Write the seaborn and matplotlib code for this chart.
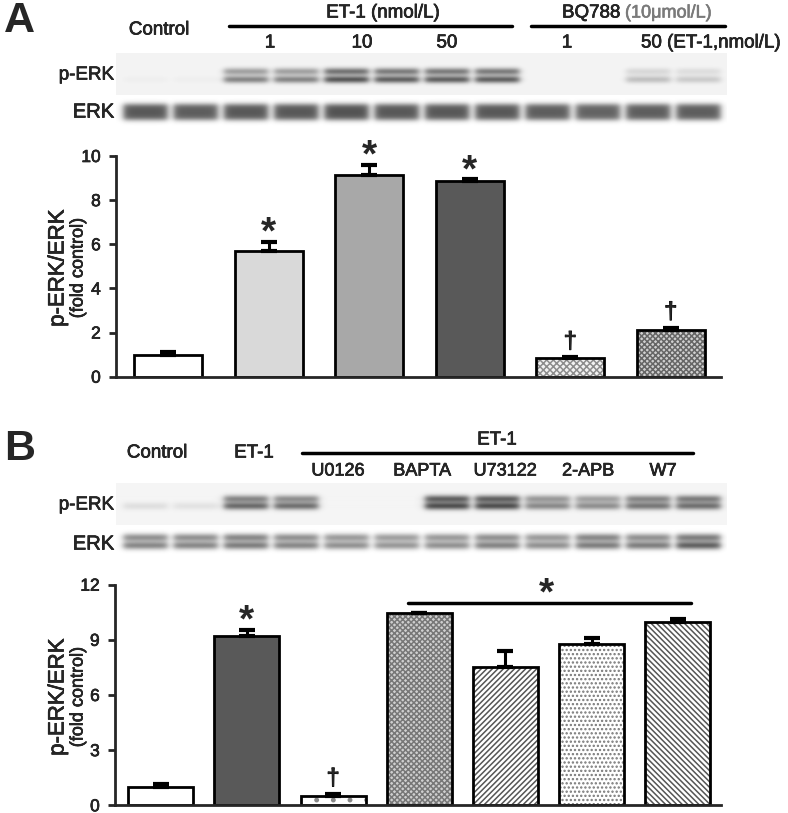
import numpy as np
import pandas as pd
import matplotlib
matplotlib.use("Agg")
import matplotlib.pyplot as plt
import matplotlib.patheffects as pe
from matplotlib.patches import Rectangle
import seaborn as sns

# ---- bar data ----
a_groups = ["Control", "ET-1 1", "ET-1 10", "ET-1 50", "BQ788+ET-1 1", "BQ788+ET-1 50"]
a_means = [1.0, 5.68, 9.12, 8.87, 0.83, 2.12]
a_sem = [0.12, 0.42, 0.47, 0.07, 0.05, 0.10]
a_marks = ["", "*", "*", "*", "\u2020", "\u2020"]

b_groups = ["Control", "ET-1", "U0126", "BAPTA", "U73122", "2-APB", "W7"]
b_means = [1.0, 9.22, 0.51, 10.44, 7.54, 8.77, 9.95]
b_sem = [0.15, 0.31, 0.10, 0.02, 0.85, 0.35, 0.20]
b_marks = ["", "*", "\u2020", "", "", "", ""]

# ---- blot band strengths per lane (0 = no band, 1 = black) ----
a_perk_upper = [0.0, 0.0, 0.45, 0.45, 0.70, 0.65, 0.65, 0.65, 0.0, 0.0, 0.15, 0.12]
a_perk_lower = [0.03, 0.03, 0.60, 0.60, 0.85, 0.80, 0.80, 0.80, 0.0, 0.0, 0.28, 0.22]
a_erk = [0.62, 0.60, 0.62, 0.62, 0.64, 0.62, 0.62, 0.62, 0.60, 0.58, 0.60, 0.60]

b_perk_upper = [0.0, 0.0, 0.60, 0.55, 0.0, 0.0, 0.80, 0.80, 0.50, 0.45, 0.60, 0.65]
b_perk_lower = [0.12, 0.10, 0.75, 0.72, 0.0, 0.0, 0.90, 0.90, 0.58, 0.55, 0.68, 0.72]
b_erk_upper = [0.55, 0.55, 0.60, 0.55, 0.50, 0.48, 0.50, 0.55, 0.50, 0.60, 0.55, 0.65]
b_erk_lower = [0.60, 0.60, 0.65, 0.60, 0.55, 0.52, 0.55, 0.62, 0.55, 0.65, 0.65, 0.80]

W, H = 788, 813
heavy = [pe.withStroke(linewidth=0.45, foreground="black")]


def fx(px):
    return px / W


def fy(py):
    return 1 - py / H


def blot(strength_rows, band_rows, width_px, height_px, bg, lane_w=44, band_sd=2.6):
    xs = np.arange(width_px)[None, :]
    ys = np.arange(height_px)[:, None]
    centers = np.linspace(29, 582, 12) * width_px / 611.0
    dark = np.zeros((height_px, width_px))
    for strengths, by in zip(strength_rows, band_rows):
        v = np.exp(-0.5 * ((ys - by) / band_sd) ** 2)
        for c, s in zip(centers, strengths):
            h = 1 / (1 + np.exp(-(lane_w / 2 - np.abs(xs - c)) / 2.0))
            dark += s * h * v
    dark = np.clip(dark, 0, 1)
    return bg - dark * (bg - 0.25)


sns.set_style("ticks")
plt.rcParams["font.family"] = ["Liberation Sans", "DejaVu Sans"]
plt.rcParams["hatch.linewidth"] = 1.1

fig = plt.figure(figsize=(W / 100, H / 100), dpi=100)


def label(x, y, s, size=13.5, **kw):
    kw.setdefault("ha", "center")
    kw.setdefault("va", "center")
    t = fig.text(fx(x), fy(y), s, fontsize=size, **kw)
    t.set_path_effects([pe.withStroke(linewidth=0.45, foreground=kw.get("color", "black"))])
    return t


def add_blot(top, bottom, img):
    ax = fig.add_axes([fx(116), fy(bottom), fx(727) - fx(116), fy(top) - fy(bottom)])
    ax.imshow(img, cmap="gray", vmin=0, vmax=1, aspect="auto", interpolation="bilinear")
    ax.axis("off")
    return ax


# Panel A blots
img = blot([a_perk_upper, a_perk_lower], [18, 26], 611, 42, 0.955)
add_blot(53, 95, img)
img = blot([a_erk, a_erk, a_erk], [12, 17, 22], 611, 35, 1.0, band_sd=2.8)
add_blot(95, 130, img)

# Panel B blots
img = blot([b_perk_upper, b_perk_lower], [16, 23], 611, 42, 0.96)
add_blot(483, 525, img)
img = blot([b_erk_upper, b_erk_lower], [12, 20], 611, 35, 1.0, band_sd=2.9)
add_blot(525, 560, img)


def bar_panel(rect, groups, means, sem, marks, styles, width, ymax, yticks):
    ax = fig.add_axes(rect)
    df = pd.DataFrame({"group": groups, "value": means})
    sns.barplot(data=df, x="group", y="value", hue="group", palette=[s[0] for s in styles],
                legend=False, width=width, edgecolor="black", linewidth=2, saturation=1, ax=ax)
    for p, (fc, hatch, hc) in zip(ax.patches, styles):
        if hatch:
            p.set_hatch(hatch)
            p.set_edgecolor(hc)
            p.set_linewidth(0)
            ax.add_patch(Rectangle((p.get_x(), p.get_y()), p.get_width(), p.get_height(),
                                   fill=False, ec="black", lw=2, zorder=p.get_zorder() + 0.1))
    xs = np.arange(len(groups))
    ax.errorbar(xs, means, yerr=[np.zeros(len(sem)), sem], fmt="none", ecolor="black",
                elinewidth=2.2, capsize=6, capthick=3, zorder=1)
    for x, m, s, mk in zip(xs, means, sem, marks):
        if mk == "*":
            ax.annotate(mk, xy=(x, m + s), xytext=(0, -7), textcoords="offset points",
                        ha="center", va="bottom", fontsize=28, fontweight="bold")
        elif mk:
            t = ax.annotate(mk, xy=(x, m + s), xytext=(0, 3), textcoords="offset points",
                            ha="center", va="bottom", fontsize=17)
            t.set_path_effects([pe.withStroke(linewidth=0.7, foreground="black")])
    ax.set_ylim(0, ymax)
    ax.set_yticks(yticks)
    ax.set_xlabel("")
    ax.set_ylabel("")
    ax.set_xticks([])
    sns.despine(ax=ax)
    for s in ["left", "bottom"]:
        ax.spines[s].set_linewidth(2)
    ax.tick_params(axis="y", length=5, width=2, labelsize=12.5, pad=6)
    for t in ax.get_yticklabels():
        t.set_path_effects(heavy)
    return ax


a_styles = [("white", None, None), ("#d9d9d9", None, None), ("#a8a8a8", None, None),
            ("#595959", None, None), ("#f2f2f2", "xxxxx", "#8c8c8c"), ("#d0d0d0", "xxxxxx", "#666666")]
axA = bar_panel([fx(116), fy(376.7), fx(721) - fx(116), fy(156) - fy(376.7)],
                a_groups, a_means, a_sem, a_marks, a_styles, 0.677, 10, [0, 2, 4, 6, 8, 10])
axA.set_xlim(-0.52, 5.5)

b_styles = [("white", None, None), ("#595959", None, None), ("white", ".", "#888888"),
            ("#cfcfcf", "xxxxxx", "#777777"), ("white", "//////", "#555555"),
            ("white", "....", "#777777"), ("white", "\\\\\\\\\\\\", "#555555")]
axB = bar_panel([fx(115), fy(805.3), fx(721) - fx(115), fy(584.7) - fy(805.3)],
                b_groups, b_means, b_sem, b_marks, b_styles, 0.754, 12, [0, 3, 6, 9, 12])
axB.set_xlim(-0.53, 6.5)

# significance bar over the inhibitor groups
axB.plot([3 - 0.13, 6 + 0.15], [11.0, 11.0], color="black", lw=2.5, clip_on=False)
axB.annotate("*", xy=(4.47, 11.0), xytext=(0, -7), textcoords="offset points",
             ha="center", va="bottom", fontsize=28, fontweight="bold", annotation_clip=False)

# y labels
for ymid in [268, 697]:
    label(58, ymid, "p-ERK/ERK", size=16, rotation=90)
    label(78, ymid, "(fold control)", size=13, rotation=90)

# ---- panel A header ----
fig.text(fx(4), fy(21), "A", fontsize=31, fontweight="bold", ha="left", va="center")
label(159, 30, "Control")
label(383, 13, "ET-1 (nmol/L)")
fig.add_artist(plt.Line2D([fx(229), fx(512)], [fy(25.7), fy(25.7)], color="black", lw=2.5))
fig.add_artist(plt.Line2D([fx(531), fx(725)], [fy(25.7), fy(25.7)], color="black", lw=2.5))
label(562, 13, "BQ788", ha="left")
label(625, 13, "(10\u03bcmol/L)", size=13, ha="left", color="#7a7a7a")
for x, t in [(270, "1"), (362, "10"), (447, "50"), (567, "1")]:
    label(x, 43, t)
label(641, 43, "50 (ET-1,nmol/L)", ha="left")
label(114, 75, "p-ERK", ha="right")
label(114, 112, "ERK", size=14.5, ha="right")

# ---- panel B header ----
fig.text(fx(4), fy(449), "B", fontsize=31, fontweight="bold", ha="left", va="center")
label(157, 453, "Control")
label(254, 453, "ET-1")
label(497, 440, "ET-1")
fig.add_artist(plt.Line2D([fx(302), fx(693)], [fy(452.7), fy(452.7)], color="black", lw=2.5))
for x, t in [(338, "U0126"), (422, "BAPTA"), (505, "U73122"), (588, "2-APB"), (663, "W7")]:
    label(x, 471, t, size=13)
label(114, 505, "p-ERK", ha="right")
label(114, 544, "ERK", size=14.5, ha="right")

fig.savefig("out.png", dpi=100)
